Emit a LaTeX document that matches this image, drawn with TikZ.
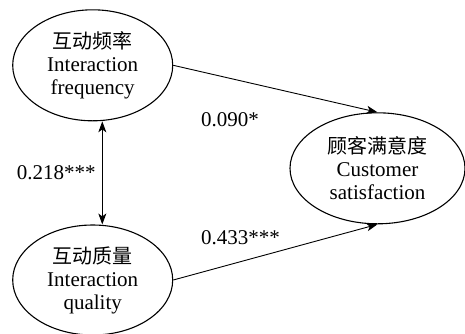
\documentclass[tikz,border=0pt]{standalone}
\usepackage{fontspec}
\setmainfont{Liberation Serif}
\newfontfamily\serifen{Liberation Serif}
\newfontfamily\cjk{Noto Sans CJK SC}
\usetikzlibrary{shapes.geometric,arrows.meta}
\begin{document}
\begin{tikzpicture}[x=1pt,y=-1pt,
  latent/.style={ellipse,draw,line width=1.1pt,inner sep=0pt,align=center,
    font=\serifen\fontsize{21}{23}\selectfont},
  conn/.style={line width=0.9pt,-{Stealth[length=11pt,width=8pt,inset=3pt]}},
  coef/.style={inner sep=0pt,anchor=west,font=\serifen\fontsize{21}{23}\selectfont}]
\useasboundingbox (0,0) rectangle (465,333);
\node[latent,minimum width=160pt,minimum height=111pt] (freq) at (92.7,65.3)
  {{\cjk\fontsize{20}{23}\selectfont 互动频率}\\Interaction\\frequency};
\node[latent,minimum width=160pt,minimum height=110pt] (qual) at (92.7,280)
  {{\cjk\fontsize{20}{23}\selectfont 互动质量}\\Interaction\\quality};
\node[latent,minimum width=175pt,minimum height=111pt] (sat) at (377.5,168.3)
  {{\cjk\fontsize{20}{23}\selectfont 顾客满意度}\\Customer\\satisfaction};
\draw[conn] (freq.east) -- (sat.north);
\draw[conn] (qual.east) -- (sat.south);
\draw[conn,{Stealth[length=11pt,width=8pt,inset=3pt]}-{Stealth[length=11pt,width=8pt,inset=3pt]}]
  ([xshift=9.6pt]freq.south) -- ([xshift=9.6pt]qual.north);
\node[coef] (c1) at (16.7,173) {0.218***};
\node[coef] (c2) at (201,120) {0.090*};
\node[coef] (c3) at (201,238) {0.433***};
\end{tikzpicture}
\end{document}
